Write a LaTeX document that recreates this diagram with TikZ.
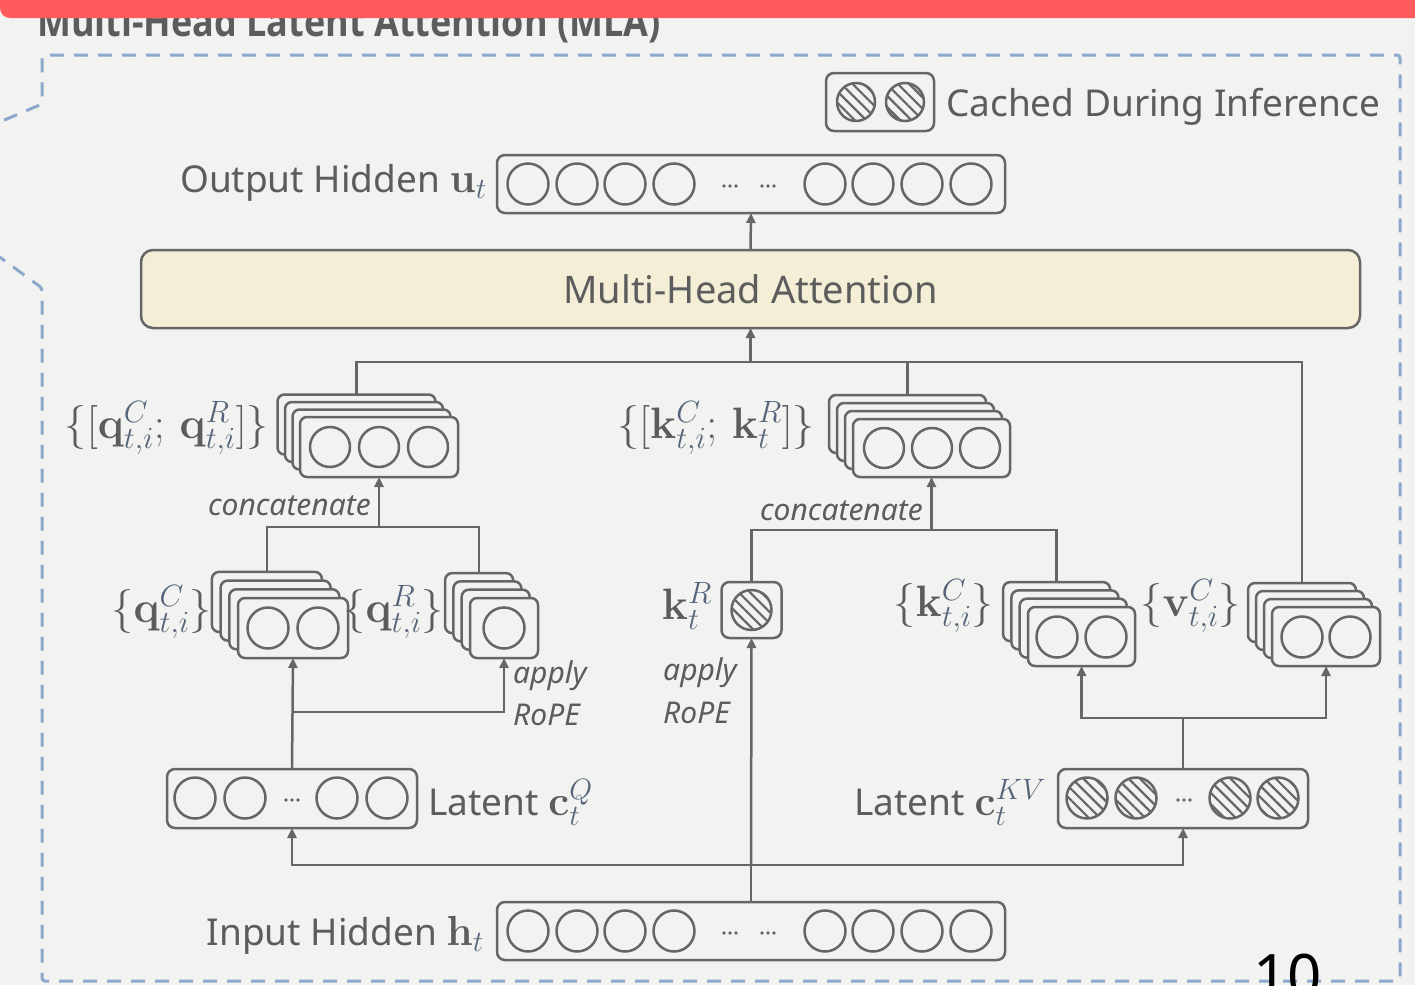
\RequirePackage{fix-cm}
\documentclass[tikz,border=0pt]{standalone}
\usepackage{graphicx}
\usepackage[no-math]{fontspec}
\setmainfont{Noto Sans}
\newfontfamily\titlefont{Open Sans}
\usetikzlibrary{arrows.meta,patterns.meta}
\definecolor{bg}{HTML}{F2F2F1}
\definecolor{lc}{HTML}{666666}
\definecolor{tc}{HTML}{5C5C5C}
\definecolor{sc}{HTML}{55657A}
\definecolor{bc}{HTML}{8CA8CC}
\definecolor{rb}{HTML}{FF5A5C}
\definecolor{mf}{HTML}{F4EED6}
\newcommand\scr[1]{\textcolor{sc}{#1}}
\newcommand\bm[1]{{\fontsize{42}{50}\selectfont$#1$}}
\newcommand\mystack[6]{%
  \foreach \i in {0,1,2,3}{%
    \node[layer, minimum width=#4, minimum height=#5, anchor=north west] (#1\i) at ({#2-(3-\i)*#6},{#3-(3-\i)*#6}) {};
  }}
\tikzset{
  ln/.style={draw=lc, line width=2.5pt},
  arr/.style={ln, -{Triangle[length=10pt,width=9pt]}},
  box/.style={draw=lc, line width=2.5pt, rounded corners=8pt, inner sep=0pt, outer sep=0pt},
  layer/.style={draw=lc, line width=2.5pt, fill=bg, rounded corners=7pt, inner sep=0pt, outer sep=0pt},
  cell/.style={draw=lc, line width=2.5pt},
  hcell/.style={cell, pattern={Lines[angle=-45,distance=8pt,line width=2.2pt]}, pattern color=lc},
  txt/.style={text=tc, font=\fontsize{37}{44}\selectfont, inner sep=0pt},
  mtx/.style={text=tc, font=\fontsize{44}{52}\selectfont, inner sep=1pt},
  itx/.style={text=tc, font=\fontsize{30}{36}\selectfont\itshape, inner sep=0pt},
  border/.style={draw=bc, line width=3pt, dash pattern=on 14pt off 10pt, rounded corners=3pt},
}
\newcommand\mydots[2]{\foreach \k in {-6,0,6}{\fill[lc] ({#1+\k},#2) circle (1.8);}}
\begin{document}
\begin{tikzpicture}[x=1pt,y=-1pt]
\useasboundingbox (0,0) rectangle (1415,985);
\clip (0,0) rectangle (1415,985);
\fill[bg] (0,0) rectangle (1415,985);

% title and bar
\node[text=tc, font=\fontsize{36}{44}\selectfont\titlefont\bfseries, anchor=base west, inner sep=0pt] (title) at (37,36) {\scalebox{1}[1.14]{Multi-Head Latent Attention (MLA)}};
\fill[rb, rounded corners=10pt] (0,-30) rectangle (1440,18);

% dashed frame
\draw[border] (-40,139) -- (42,104) -- (42,55) -- (1400,55) -- (1400,981) -- (42,981) -- (42,288) -- (-40,228);

% legend
\node[box, minimum width=108, minimum height=58] (leg) at (880,102) {};
\draw[hcell] (856,102) circle (19);
\draw[hcell] (905,102) circle (19);
\node[txt, anchor=base west] (legt) at (946,116) {Cached During Inference};

% output hidden
\node[box, minimum width=508, minimum height=58] (out) at (751,184) {};
\foreach \x in {528,577,625,674,825,873,922,971} \draw[cell] (\x,184) circle (20.5);
\mydots{730}{186}\mydots{768}{186}
\node[txt, anchor=base east] (outl) at (487,192) {Output Hidden \bm{\mathbf{u}_{\scr{t}}}};

% MHA
\node[box, fill=mf, rounded corners=12pt, minimum width=1219, minimum height=78, text=tc, font=\fontsize{38}{46}\selectfont] (mha) at (750.5,289) {Multi-Head Attention};

% concat stacks
\mystack{qcat}{300}{417}{158}{60}{7.5}
\foreach \x in {330,379,428} \draw[cell] (\x,447) circle (20);
\mystack{kcat}{853}{419}{157}{58}{8}
\foreach \x in {884,932,980} \draw[cell] (\x,448) circle (20);
\node[mtx, anchor=east] (qcatl) at (270,428) {$\{[\mathbf{q}^{\scr{C}}_{\scr{t,i}};\, \mathbf{q}^{\scr{R}}_{\scr{t,i}}]\}$};
\node[mtx, anchor=east] (kcatl) at (816,428) {$\{[\mathbf{k}^{\scr{C}}_{\scr{t,i}};\, \mathbf{k}^{\scr{R}}_{\scr{t}}]\}$};

% head stacks
\mystack{qc}{238}{598}{110}{60}{8.7}
\foreach \x in {268,318} \draw[cell] (\x,628) circle (20.5);
\mystack{qr}{470}{598}{68}{60}{8.3}
\draw[cell] (504,628) circle (20.5);
\mystack{kc}{1028}{607}{107}{59}{8.3}
\foreach \x in {1057,1106} \draw[cell] (\x,637) circle (20.5);
\mystack{vc}{1272}{607}{108}{59}{8}
\foreach \x in {1302,1350} \draw[cell] (\x,637) circle (20.5);
\node[box, minimum width=60, minimum height=56] (kr) at (751.5,610) {};
\draw[hcell] (751.5,610) circle (20);

\node[mtx, anchor=east] (qcl) at (213,612) {$\{\mathbf{q}^{\scr{C}}_{\scr{t,i}}\}$};
\node[mtx, anchor=east] (qrl) at (445,612) {$\{\mathbf{q}^{\scr{R}}_{\scr{t,i}}\}$};
\node[mtx, anchor=east] (krl) at (713,606) {$\mathbf{k}^{\scr{R}}_{\scr{t}}$};
\node[mtx, anchor=east] (kcl) at (995,606) {$\{\mathbf{k}^{\scr{C}}_{\scr{t,i}}\}$};
\node[mtx, anchor=east] (vcl) at (1242,606) {$\{\mathbf{v}^{\scr{C}}_{\scr{t,i}}\}$};

% latents
\node[box, minimum width=250, minimum height=59] (cq) at (292,798.5) {};
\foreach \x in {195,245,337,387} \draw[cell] (\x,798) circle (20.5);
\mydots{292}{800}
\node[txt, anchor=base west] (cql) at (428,815) {Latent \bm{\mathbf{c}^{\scr{Q}}_{\scr{t}}}};
\node[box, minimum width=250, minimum height=59] (ckv) at (1183,798.5) {};
\foreach \x in {1087,1136,1230,1278} \draw[hcell] (\x,798) circle (20.5);
\mydots{1184}{800}
\node[txt, anchor=base east] (ckvl) at (1046,815) {Latent \bm{\mathbf{c}^{\scr{KV}}_{\scr{t}}}};

% input hidden
\node[box, minimum width=508, minimum height=58] (in) at (751,931) {};
\foreach \x in {528,577,625,674,825,873,922,971} \draw[cell] (\x,931) circle (20.5);
\mydots{730}{933}\mydots{768}{933}
\node[txt, anchor=base east] (inl) at (484,945) {Input Hidden \bm{\mathbf{h}_{\scr{t}}}};

% labels
\node[itx, anchor=base east] (qconc) at (371,515) {concatenate};
\node[itx, anchor=base east] (kconc) at (923,520) {concatenate};
\node[itx, anchor=base west] (qap) at (513,683) {apply};
\node[itx, anchor=base west] (qro) at (513,725) {RoPE};
\node[itx, anchor=base west] (kap) at (663,680) {apply};
\node[itx, anchor=base west] (kro) at (663,723) {RoPE};

% connectors
\draw[arr] (mha.north) -- (out.south);
\coordinate (hl) at (mha.south |- 0,362);
\draw[ln] (qcat0.north) |- (hl) -| (vc0.north);
\draw[ln] (kcat0.north) -- (kcat0.north |- hl);
\draw[arr] (hl) -- (mha.south);

\coordinate (qj) at (qcat3.south |- 0,527);
\draw[ln] (qc0.north) |- (qj) -| (qr0.north);
\draw[arr] (qj) -- (qcat3.south);
\coordinate (kj) at (kcat3.south |- 0,530);
\draw[ln] (kr.north) |- (kj) -| (kc0.north);
\draw[arr] (kj) -- (kcat3.south);

\draw[arr] (cq.north) -- (qc3.south);
\coordinate (qb) at (cq.north |- 0,712);
\draw[arr] (qb) -| (qr3.south);

\coordinate (kvb) at (ckv.north |- 0,718);
\draw[ln] (ckv.north) -- (kvb);
\draw[arr] (kvb) -| (kc3.south);
\draw[arr] (kvb) -| (vc3.south);

\coordinate (ib) at (in.north |- 0,865);
\draw[ln] (in.north) -- (ib);
\draw[arr] (ib) -| (cq.south);
\draw[arr] (ib) -| (ckv.south);
\draw[arr] (ib) -- (kr.south);

% page number
\node[text=black, font=\fontsize{60}{70}\selectfont, anchor=base west, inner sep=0pt] (pg) at (1253,997) {10};
\end{tikzpicture}
\end{document}
